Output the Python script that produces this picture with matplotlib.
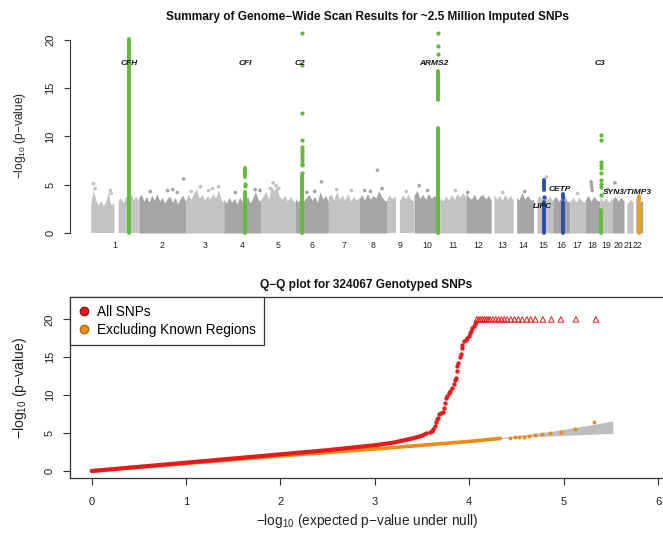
import numpy as np
import matplotlib
matplotlib.use('Agg')
import matplotlib.pyplot as plt
from matplotlib.lines import Line2D

plt.rcParams['font.family'] = ['Liberation Sans', 'DejaVu Sans']
plt.rcParams['mathtext.fontset'] = 'custom'
plt.rcParams['mathtext.rm'] = 'Liberation Sans'
plt.rcParams['mathtext.it'] = 'Liberation Sans:italic'
plt.rcParams['mathtext.bf'] = 'Liberation Sans:bold'

# ---------------- data: Manhattan plot ----------------
CHROMS = [str(i) for i in range(1, 23)]
CHROM_LEN_MB = [247, 243, 199, 191, 181, 171, 159, 146, 140, 135, 134, 132,
                114, 106, 100, 89, 79, 76, 64, 62, 47, 50]
# regions without SNPs (chromosome, start Mb, end Mb)
GAP_CHR = [1, 9, 13, 14, 15, 21, 22]
GAP_START = [121, 47, 0, 0, 0, 0, 0]
GAP_END = [142, 66, 14, 18, 18, 14, 14]

# upper edge of the dense cloud of background SNPs (-log10 p), left to right
BACKGROUND_TOP = {
    1: [2.9, 4.4, 3.4, 2.9, 3.3, 2.8, 3.2, 4.2, 2.9, 3.0, 2.8, 3.4, 3.6, 3.1, 3.8, 3.3, 4.0, 3.4, 3.8, 3.3],
    2: [3.7, 4.0, 3.3, 3.8, 3.2, 3.9, 3.4, 4.1, 3.3, 3.7, 3.1, 3.6, 3.8, 3.2, 3.7, 3.0, 3.6, 3.9, 3.2],
    3: [3.4, 4.0, 3.5, 4.1, 4.6, 3.6, 4.0, 3.4, 3.9, 3.5, 4.1, 3.6, 4.5, 3.5, 3.2],
    4: [3.5, 3.1, 3.7, 3.2, 3.6, 3.0, 3.7, 3.3, 3.2, 3.8, 3.1, 3.6, 4.3, 3.5, 3.3],
    5: [3.4, 3.9, 4.3, 3.5, 4.8, 4.4, 4.9, 3.8, 3.5, 3.9, 3.3, 3.8, 3.4, 3.2],
    6: [3.6, 3.2, 3.8, 3.3, 3.7, 4.0, 3.4, 3.8, 3.2, 4.3, 3.5, 3.9, 3.3],
    7: [3.8, 4.0, 3.4, 4.3, 3.5, 3.9, 3.4, 4.1, 3.3, 3.8, 3.4, 3.7],
    8: [3.5, 4.0, 3.4, 4.1, 3.5, 3.9, 3.6, 4.4, 3.8, 3.4, 3.3],
    9: [3.4, 3.9, 3.5, 3.8, 3.3, 3.4, 3.9, 3.5, 4.0, 3.4, 3.3],
    10: [3.9, 4.4, 3.6, 4.0, 3.5, 4.1, 3.6, 3.9, 3.5, 3.4],
    11: [3.7, 3.3, 3.8, 3.4, 4.0, 3.5, 4.1, 3.7, 4.2, 3.6],
    12: [4.1, 3.7, 3.5, 4.0, 3.4, 3.8, 4.0, 3.5, 3.9, 3.4],
    13: [3.6, 4.0, 3.5, 3.9, 3.4, 4.0, 3.5, 3.9, 3.4],
    14: [3.5, 3.8, 3.4, 4.2, 3.5, 3.9, 3.4, 3.5],
    15: [3.5, 3.4, 3.9, 3.5, 4.0, 3.5, 3.8, 3.3],
    16: [3.4, 3.8, 3.3, 3.7, 3.9, 3.3, 3.2],
    17: [3.3, 3.7, 3.2, 3.7, 3.3, 3.2],
    18: [3.4, 3.9, 3.3, 3.8, 3.4, 3.3],
    19: [3.7, 3.3, 3.6, 3.2, 3.7],
    20: [3.4, 3.8, 3.3, 3.7, 3.3],
    21: [3.3, 3.0, 3.5, 3.2],
    22: [3.3, 3.7, 3.2, 3.4],
}

# isolated background SNPs above the cloud
OUTLIER_CHR = [1, 1, 1, 1, 2, 2, 2, 2, 2, 3, 3, 3, 3, 3, 4, 4, 4, 5, 5, 5, 5,
               6, 6, 6, 7, 7, 8, 8, 8, 8, 9, 10, 10, 11, 12, 13, 14, 15, 17,
               18, 18, 18, 18, 19, 20]
OUTLIER_MB = [12, 20, 100, 104, 60, 150, 177, 200, 233, 30, 78, 120, 140, 172,
              60, 163, 188, 50, 65, 80, 95, 60, 100, 135, 43, 120, 30, 60, 96,
              120, 100, 27, 70, 80, 10, 60, 60, 67, 40, 31, 33, 35, 37, 40, 15]
OUTLIER_P = [5.1, 4.6, 4.4, 4.1, 4.3, 4.4, 4.5, 4.2, 5.6, 4.3, 4.8, 4.4, 4.6,
             4.8, 4.2, 4.5, 4.4, 4.6, 5.2, 4.9, 4.6, 4.2, 4.3, 5.3, 4.5, 4.4,
             4.4, 4.3, 6.5, 4.6, 4.3, 4.9, 4.4, 4.4, 4.2, 4.2, 4.3, 5.8, 4.1,
             5.3, 5.0, 4.7, 4.4, 4.5, 5.2]

# highlighted loci
LOCI_NAMES = ['CFH', 'CFI', 'C2', 'ARMS2', 'C3', 'LIPC', 'CETP', 'SYN3/TIMP3']
LOCI_CHR = [1, 4, 6, 10, 19, 15, 16, 22]
LOCI_MB = [195.0, 110.9, 32.0, 124.2, 6.7, 56.5, 55.5, 31.5]
LOCI_GROUP = ['known', 'known', 'known', 'known', 'known', 'lipid', 'lipid', 'new']
# continuous runs of SNPs (from, to) in -log10 p
LOCI_RUNS = [
    [(0, 20.1)],
    [(0, 4.2), (5.8, 6.7)],
    [(0, 6.0)],
    [(0, 10.9), (13.8, 16.8)],
    [(0, 2.4)],
    [(0, 3.2), (4.5, 5.5)],
    [(0, 3.2), (3.6, 4.0)],
    [(0, 2.9), (3.3, 3.8)],
]
LOCI_DOTS = [
    [],
    [4.9, 5.1],
    [6.2, 7.0, 7.2, 7.5, 7.8, 8.1, 8.4, 8.6, 8.9, 9.6, 12.4, 17.4, 20.7],
    [18.5, 19.4, 20.7],
    [3.9, 4.8, 5.1, 5.5, 6.2, 6.7, 7.0, 7.4, 9.6, 10.2],
    [3.7],
    [],
    [],
]

# ---------------- data: Q-Q plot ----------------
QQ_CAP = 20
ALL_DENSE_X = [0, 1, 2, 2.5, 3, 3.2, 3.4, 3.5, 3.55]
ALL_DENSE_Y = [0, 1.1, 2.2, 2.75, 3.4, 3.75, 4.3, 4.65, 4.97]
ALL_SPARSE_X = [3.58, 3.60, 3.62, 3.64, 3.65, 3.66, 3.67, 3.68, 3.70, 3.72, 3.73,
                3.74, 3.75, 3.76, 3.78, 3.80, 3.82, 3.84, 3.85, 3.86, 3.87, 3.875,
                3.885, 3.90, 3.91, 3.92, 3.925, 3.94, 3.96, 3.98, 4.00, 4.01, 4.02,
                4.03, 4.05, 4.06, 4.07]
ALL_SPARSE_Y = [5.1, 5.3, 5.5, 6.0, 6.5, 6.8, 7.0, 7.5, 7.6, 7.8, 8.3, 9.0, 9.6,
                9.9, 10.3, 10.6, 11.0, 11.5, 12.0, 12.3, 13.2, 13.8, 14.2, 15.0,
                15.4, 16.2, 16.6, 17.1, 17.3, 17.5, 17.8, 18.2, 18.5, 18.8, 19.1,
                19.4, 19.7]
ALL_CAPPED_X = [4.08, 4.10, 4.12, 4.14, 4.16, 4.18, 4.20, 4.22, 4.25, 4.28, 4.31,
                4.34, 4.37, 4.40, 4.44, 4.48, 4.52, 4.56, 4.61, 4.65, 4.70, 4.78,
                4.87, 4.97, 5.13, 5.34]
EXCL_DENSE_X = [0, 1, 2, 3, 4, 4.33]
EXCL_DENSE_Y = [0, 1.0, 2.0, 2.9, 3.9, 4.3]
EXCL_SPARSE_X = [4.43, 4.48, 4.53, 4.58, 4.63, 4.70, 4.77, 4.86, 4.97, 5.12, 5.32]
EXCL_SPARSE_Y = [4.4, 4.42, 4.45, 4.5, 4.62, 4.75, 4.88, 4.97, 5.1, 5.5, 6.5]
BAND_X = [4.3, 4.6, 4.9, 5.2, 5.52]
BAND_LO = [4.25, 4.5, 4.65, 4.8, 4.97]
BAND_HI = [4.35, 4.8, 5.3, 5.9, 6.6]

# ---------------- styles ----------------
GREY_ODD = '#c3c3c3'
GREY_EVEN = '#a5a5a5'
GROUP_COLORS = {'known': '#62bb3a', 'lipid': '#2d4fa8', 'new': '#f5a01a'}
RED = '#e8191c'
ORANGE = '#f08a12'
AXC = '#333333'

W, H = 663, 535
fig = plt.figure(figsize=(W / 100, H / 100), dpi=100)

def fx(px):
    return px / W

def fy(py):
    return 1 - py / H

# ---------------- top: Manhattan ----------------
ax1 = fig.add_axes([fx(70), fy(241), fx(664.6) - fx(70), fy(25.2) - fy(241)])
offsets = np.concatenate([[0], np.cumsum(CHROM_LEN_MB)[:-1]])
ax1.set_xlim(-110.1, 2978.7)
ax1.set_ylim(-0.83, 21.53)

for i, ch in enumerate(range(1, 23)):
    L = CHROM_LEN_MB[i]
    top = BACKGROUND_TOP[ch]
    xs = np.linspace(0, L, len(top))
    grid = np.linspace(0, L, 400)
    yy = np.interp(grid, xs, top)
    mask = np.zeros_like(grid, dtype=bool)
    for gc, g0, g1 in zip(GAP_CHR, GAP_START, GAP_END):
        if gc == ch:
            mask |= (grid >= g0) & (grid <= g1)
    col = GREY_ODD if ch % 2 == 1 else GREY_EVEN
    ax1.fill_between(grid + offsets[i], 0, np.ma.masked_where(mask, yy),
                     color=col, lw=0, zorder=1)

ox = [offsets[c - 1] + m for c, m in zip(OUTLIER_CHR, OUTLIER_MB)]
ocol = [GREY_ODD if c % 2 == 1 else GREY_EVEN for c in OUTLIER_CHR]
ax1.scatter(ox, OUTLIER_P, s=7, c=ocol, lw=0, zorder=2)

for name, c, mb, grp, runs, dots in zip(LOCI_NAMES, LOCI_CHR, LOCI_MB, LOCI_GROUP,
                                        LOCI_RUNS, LOCI_DOTS):
    x = offsets[c - 1] + mb
    col = GROUP_COLORS[grp]
    for lo, hi in runs:
        ax1.plot([x, x], [lo, hi], color=col, lw=2.8, solid_capstyle='round', zorder=3)
    if dots:
        ax1.scatter([x] * len(dots), dots, s=9, color=col, lw=0, zorder=3)

LABEL_POS = {'CFH': (0, 17.6), 'CFI': (0, 17.6), 'C2': (-8, 17.6), 'ARMS2': (-22, 17.6),
             'C3': (-5, 17.6), 'LIPC': (-12, 2.7), 'CETP': (-20, 4.5),
             'SYN3/TIMP3': (-60, 4.2)}
for name, c, mb in zip(LOCI_NAMES, LOCI_CHR, LOCI_MB):
    dx, yl = LABEL_POS[name]
    ax1.text(offsets[c - 1] + mb + dx, yl, name, fontsize=6, fontweight='bold',
             fontstyle='italic', ha='center', va='center', color='#111111', zorder=4)

mids = offsets + np.array(CHROM_LEN_MB) / 2
ax1.set_xticks(mids)
ax1.set_xticklabels(CHROMS)
ax1.tick_params(axis='x', length=0, pad=0, labelsize=6.3, colors='#222222')
ax1.set_yticks([0, 5, 10, 15, 20])
ax1.tick_params(axis='y', length=4.5, width=0.8, color=AXC, labelsize=8,
                labelrotation=90, pad=6, labelcolor='#222222')
for lab in ax1.get_yticklabels():
    lab.set_va('center')
for s in ['top', 'right', 'bottom']:
    ax1.spines[s].set_visible(False)
ax1.spines['left'].set_bounds(0, 20)
ax1.spines['left'].set_color(AXC)
ax1.spines['left'].set_linewidth(0.8)
ax1.set_ylabel(r'$-\mathrm{log}_{10}$ (p$-$value)', fontsize=8.6, color='#222222')
ax1.yaxis.set_label_coords((20 - 70) / 594.6, 0.49)
ax1.yaxis.label.set_va('center')

fig.text(fx(367), fy(17), 'Summary of Genome\u2212Wide Scan Results for ~2.5 Million Imputed SNPs',
         ha='center', va='center', fontsize=8.6, fontweight='bold', color='#111111')

# ---------------- bottom: Q-Q ----------------
ax2 = fig.add_axes([fx(70), fy(478), fx(664.6) - fx(70), fy(297) - fy(478)])
ax2.set_xlim(-0.2299, 6.069)
ax2.set_ylim(-0.923, 22.955)

ax2.fill_between(BAND_X, BAND_LO, BAND_HI, color='#bdbdbd', lw=0, zorder=1)
ax2.plot(EXCL_DENSE_X, EXCL_DENSE_Y, color=ORANGE, lw=2.6, solid_capstyle='round', zorder=2)
ax2.scatter(EXCL_SPARSE_X, EXCL_SPARSE_Y, s=8, color=ORANGE, lw=0, zorder=2)
ax2.plot(ALL_DENSE_X, ALL_DENSE_Y, color=RED, lw=3.0, solid_capstyle='round', zorder=3)
ax2.scatter(ALL_SPARSE_X, ALL_SPARSE_Y, s=10, color=RED, lw=0, zorder=3)
ax2.scatter(ALL_CAPPED_X, [QQ_CAP] * len(ALL_CAPPED_X), s=16, marker='^',
            facecolors='none', edgecolors=RED, lw=0.7, zorder=3)

ax2.set_xticks(range(0, 7))
ax2.set_yticks([0, 5, 10, 15, 20])
ax2.tick_params(axis='x', length=5, width=0.8, color=AXC, labelsize=8, pad=9,
                labelcolor='#222222')
ax2.tick_params(axis='y', length=5, width=0.8, color=AXC, labelsize=8,
                labelrotation=90, pad=6, labelcolor='#222222')
for lab in ax2.get_yticklabels():
    lab.set_va('center')
for s in ax2.spines.values():
    s.set_color(AXC)
    s.set_linewidth(0.9)
ax2.set_ylabel(r'$-\mathrm{log}_{10}$ (p$-$value)', fontsize=10.1, color='#222222')
ax2.yaxis.set_label_coords((20 - 70) / 594.6, 0.5)
ax2.yaxis.label.set_va('center')
ax2.set_xlabel(r'$-\mathrm{log}_{10}$ (expected p$-$value under null)', fontsize=9.8,
               color='#222222')
ax2.xaxis.set_label_coords((367 - 70) / 594.6, (478 - 521) / 181)
ax2.xaxis.label.set_va('center')

fig.text(fx(366), fy(285), 'Q\u2212Q plot for 324067 Genotyped SNPs',
         ha='center', va='center', fontsize=8.6, fontweight='bold', color='#111111')

handles = [Line2D([], [], ls='none', marker='o', ms=6.2, mfc=RED, mec='#8a1010', mew=0.8),
           Line2D([], [], ls='none', marker='o', ms=6.2, mfc=ORANGE, mec='#a85a00', mew=0.8)]
leg = ax2.legend(handles, ['All SNPs', 'Excluding Known Regions'], loc='upper left',
                 bbox_to_anchor=(0, 1), borderaxespad=0, fancybox=False, framealpha=1,
                 edgecolor=AXC, fontsize=9.8, handlelength=0.9, handletextpad=0.5,
                 borderpad=0.6, labelspacing=0.3)
leg.get_frame().set_linewidth(0.9)

fig.savefig('out.png', dpi=100)
